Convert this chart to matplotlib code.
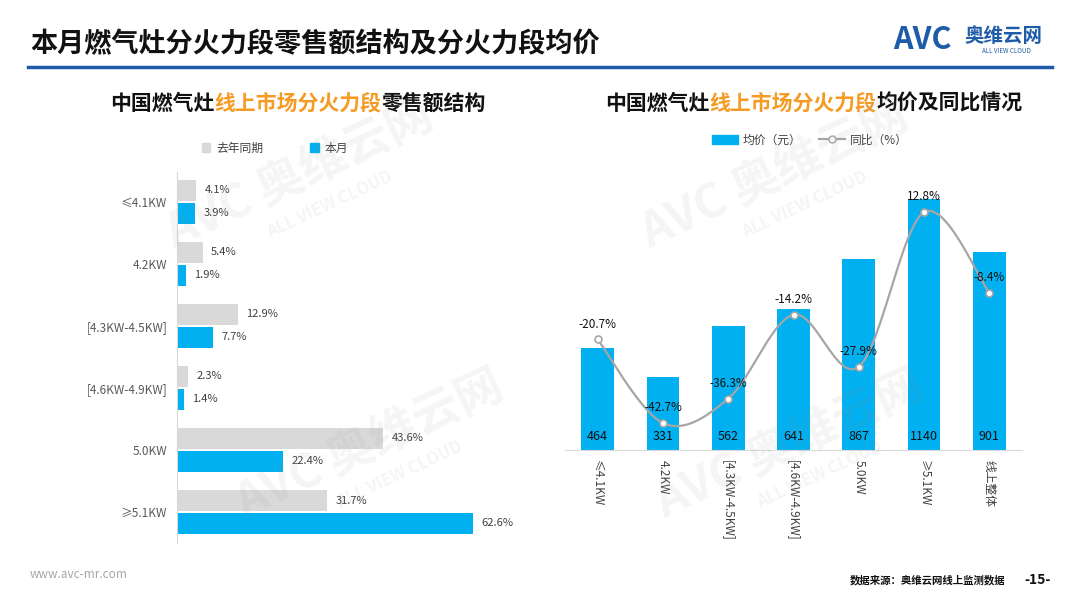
import numpy as np
import matplotlib.pyplot as plt
from matplotlib.patches import Patch
from matplotlib.lines import Line2D

plt.rcParams['font.family'] = ['Noto Sans CJK SC', 'DejaVu Sans']

# left chart: share of online retail sales by burner power
seg_left = ['≤4.1KW', '4.2KW', '[4.3KW-4.5KW]', '[4.6KW-4.9KW]', '5.0KW', '≥5.1KW']
share_last = [4.1, 5.4, 12.9, 2.3, 43.6, 31.7]
share_now = [3.9, 1.9, 7.7, 1.4, 22.4, 62.6]

# right chart: average price and yoy change
seg_right = ['≤4.1KW', '4.2KW', '[4.3KW-4.5KW]', '[4.6KW-4.9KW]', '5.0KW', '≥5.1KW', '线上整体']
avg_price = [464, 331, 562, 641, 867, 1140, 901]
yoy = [-20.7, -42.7, -36.3, -14.2, -27.9, 12.8, -8.4]

BLUE = '#00B0F0'
GREY = '#D9D9D9'
ORANGE = '#F59A23'
W, H = 1080, 608

fig = plt.figure(figsize=(W / 100, H / 100), dpi=100)


def fx(px):
    return px / W


def fy(py):
    return 1 - py / H


def multi_text(pieces, xc, y, size):
    r = fig.canvas.get_renderer()
    texts = [fig.text(0, fy(y), s, color=c, fontsize=size, fontweight='bold',
                      ha='left', va='center') for s, c in pieces]
    widths = [t.get_window_extent(r).width for t in texts]
    x = xc - sum(widths) / 2
    for t, w in zip(texts, widths):
        t.set_x(fx(x))
        x += w


# header
fig.text(fx(30), fy(44), '本月燃气灶分火力段零售额结构及分火力段均价', fontsize=19.5,
         fontweight='bold', color='#111111', va='center')
fig.add_artist(Line2D([fx(28), fx(1052)], [fy(67), fy(67)], color='#1F5CA8', lw=2.5))
fig.text(fx(893), fy(40), 'AVC', fontsize=22, fontweight='bold', style='italic',
         color='#1F5CA8', va='center')
fig.text(fx(964), fy(36), '奥维云网', fontsize=14, fontweight='bold', color='#1F5CA8', va='center')
fig.text(fx(1006), fy(51), 'ALL VIEW CLOUD', fontsize=4.5, color='#1F5CA8', ha='center', va='center')

multi_text([('中国燃气灶', '#111111'), ('线上市场分火力段', ORANGE), ('零售额结构', '#111111')],
           298, 103, 15)
multi_text([('中国燃气灶', '#111111'), ('线上市场分火力段', ORANGE), ('均价及同比情况', '#111111')],
           814, 103, 15)

# ---- left chart
ax1 = fig.add_axes([fx(177), fy(543), fx(540 - 177), (543 - 172) / H])
ax1.set_facecolor('none')
y = np.arange(len(seg_left))
h = 0.34
ax1.barh(y - 0.185, share_last, height=h, color=GREY)
ax1.barh(y + 0.185, share_now, height=h, color=BLUE)
for i in range(len(seg_left)):
    ax1.annotate(f'{share_last[i]}%', (share_last[i], y[i] - 0.185), xytext=(6, 0),
                 textcoords='offset points', va='center', fontsize=8, color='#404040')
    ax1.annotate(f'{share_now[i]}%', (share_now[i], y[i] + 0.185), xytext=(6, 0),
                 textcoords='offset points', va='center', fontsize=8, color='#404040')
ax1.set_xlim(0, 76.7)
ax1.set_ylim(5.5, -0.48)
ax1.set_yticks(y)
ax1.set_yticklabels(seg_left, fontsize=8.5, color='#595959')
ax1.tick_params(axis='y', length=0, pad=7)
ax1.set_xticks([])
for s in ['top', 'right', 'bottom']:
    ax1.spines[s].set_visible(False)
ax1.spines['left'].set_color(GREY)
ax1.legend(handles=[Patch(color=GREY, label='去年同期'), Patch(color=BLUE, label='本月')],
           ncol=2, loc='center', bbox_to_anchor=(fx(275), fy(148)),
           bbox_transform=fig.transFigure, frameon=False, fontsize=8.5,
           handlelength=0.7, handleheight=0.7, handletextpad=0.5, columnspacing=4,
           labelcolor='#404040')

# ---- right chart
ax2 = fig.add_axes([fx(565), fy(450), fx(1022 - 565), (450 - 180) / H])
ax2.set_facecolor('none')
x = np.arange(len(seg_right))
ax2.bar(x, avg_price, width=0.5, color=BLUE)
for i, v in enumerate(avg_price):
    ax2.annotate(str(v), (x[i], 0), xytext=(0, 9.5), textcoords='offset points',
                 ha='center', va='center', fontsize=9, color='#111111')
ax2.set_xlim(-0.5, 6.5)
ax2.set_ylim(0, 1226)
ax2.set_yticks([])
ax2.set_xticks(x)
ax2.set_xticklabels(seg_right, rotation=-90, fontsize=8.5, color='#404040', va='top')
ax2.tick_params(axis='x', length=0, pad=7)
for s in ['top', 'right', 'left']:
    ax2.spines[s].set_visible(False)
ax2.spines['bottom'].set_color(GREY)

ax3 = ax2.twinx()
ax3.set_ylim(-49.8, 21.25)
ax3.set_yticks([])
for s in ax3.spines.values():
    s.set_visible(False)

# smooth curve through the points (Catmull-Rom)
px = np.array(x, dtype=float)
py = np.array(yoy, dtype=float)
P = np.column_stack([px, py])
P = np.vstack([P[0], P, P[-1]])
cx, cy = [], []
t = np.linspace(0, 1, 30)
for k in range(1, len(P) - 2):
    p0, p1, p2, p3 = P[k - 1], P[k], P[k + 1], P[k + 2]
    for tt in t:
        c = 0.5 * ((2 * p1) + (-p0 + p2) * tt + (2 * p0 - 5 * p1 + 4 * p2 - p3) * tt ** 2
                   + (-p0 + 3 * p1 - 3 * p2 + p3) * tt ** 3)
        cx.append(c[0])
        cy.append(c[1])
ax3.plot(cx, cy, color='#A6A6A6', lw=1.6)
ax3.plot(px, py, 'o', ms=5, mfc='white', mec='#A6A6A6', mew=1.2)
for i, v in enumerate(yoy):
    ax3.annotate(f'{v}%', (px[i], py[i]), xytext=(0, 11), textcoords='offset points',
                 ha='center', va='center', fontsize=8.5, color='#111111')

ax2.legend(handles=[Patch(color=BLUE, label='均价（元）'),
                    Line2D([], [], color='#A6A6A6', marker='o', mfc='white', mec='#A6A6A6',
                           ms=5, lw=1.6, label='同比（%）')],
           ncol=2, loc='center', bbox_to_anchor=(fx(810), fy(140)),
           bbox_transform=fig.transFigure, frameon=False, fontsize=8.5,
           handlelength=2.2, handleheight=0.8, handletextpad=0.4, columnspacing=1.5,
           labelcolor='#404040')

# watermarks
for wx, wy in [(300, 175), (775, 175), (370, 445), (790, 445)]:
    fig.text(fx(wx), fy(wy), 'AVC 奥维云网', rotation=25, fontsize=34, fontweight='bold',
             color='#9A9A9A', alpha=0.1, ha='center', va='center', zorder=10)
    fig.text(fx(wx + 30), fy(wy + 30), 'ALL VIEW CLOUD', rotation=25, fontsize=12,
             fontweight='bold', color='#9A9A9A', alpha=0.1, ha='center', va='center', zorder=10)

# footer
fig.text(fx(30), fy(575), 'www.avc-mr.com', fontsize=8.5, color='#A6A6A6', va='center')
fig.text(fx(1005), fy(580), '数据来源：奥维云网线上监测数据', fontsize=7.5, fontweight='bold',
         color='#111111', ha='right', va='center')
fig.text(fx(1038), fy(580), '-15-', fontsize=10, fontweight='bold', color='#111111',
         ha='center', va='center')

fig.savefig('out.png', dpi=100)
